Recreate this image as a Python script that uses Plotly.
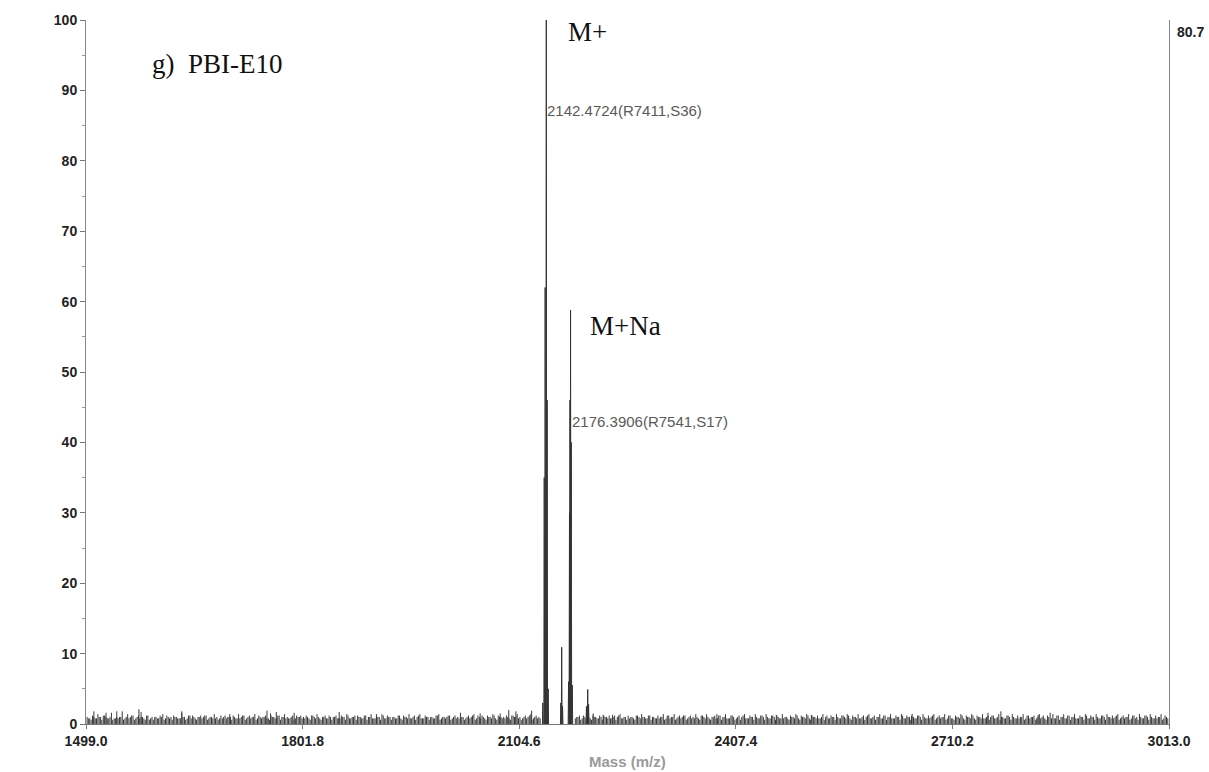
import numpy as np
import plotly.graph_objects as go

# ---------------- data ----------------
x_ticks = [1499.0, 1801.8, 2104.6, 2407.4, 2710.2, 3013.0]
y_ticks = [0, 10, 20, 30, 40, 50, 60, 70, 80, 90, 100]

# main isotope-cluster peaks (m/z, relative intensity %)
peak_mz = [2137.6, 2139.6, 2140.9, 2142.4724, 2143.7, 2145.1,
           2162.8, 2164.0, 2165.2,
           2173.6, 2174.9, 2175.6, 2176.3906, 2177.4, 2178.8,
           2198.6, 2200.4, 2201.6]
peak_int = [3.0, 35.0, 62.0, 100.0, 46.0, 5.0,
            3.0, 10.9, 2.5,
            6.0, 30.0, 46.0, 58.8, 40.0, 5.5,
            2.5, 4.9, 2.8]

# baseline noise, hand-read digit heights (x0.2 %) on two interleaved m/z grids
noise_digits_a = (
    "5464756548455947564654635546745565495466"
    "4565645754465564756465745564654657546456"
    "5646574564556465745665465746574655464657"
    "4657465546745564658546574564657465564657"
    "5465746554653443346545645746545656465745"
    "6546575465465746574656465746574564657465"
    "4657465746574656475465746574656475465746"
    "5746574657465746574657465746574657465746"
    "4657465746574656475465746574656475468746"
    "5746574657465746575657465746574657465745"
)
noise_digits_b = (
    "4354536453445354635453643545364354453645"
    "3546354436545354463545364543546354453654"
    "4536453546354453645354635445364535463544"
    "5364453546354635445354636453546354453654"
    "3546354453645346353445364535463544536453"
    "4536454635445364535463544536453546354463"
    "5364453546354635445354635463544536453546"
    "4635445364535463544536453546354463545364"
    "3546354635445364535463544536453546354463"
    "5463544536453546354463545364354635445364"
)
# notable noise spikes
spike_mz = [1510, 1527, 1542, 1573, 1576, 1633, 1700, 1752, 1757, 1765, 1790, 1853,
            1905, 2050, 2078, 2090, 2100, 2122, 2208, 2222, 2235, 2381, 2464,
            2513, 2653, 2760, 2778, 2830]
spike_int = [1.8, 1.6, 1.8, 2.1, 1.7, 1.6, 1.4, 1.9, 1.5, 1.7, 1.6, 1.7,
             1.4, 1.5, 1.5, 2.0, 1.8, 1.9, 1.5, 1.3, 1.3, 1.4, 1.3,
             1.3, 1.2, 1.6, 1.8, 1.3]

# ---------------- build traces ----------------
sx, sy = [], []
for digits, start in ((noise_digits_a, 1500.5), (noise_digits_b, 1502.3)):
    vals = [int(c) * 0.2 for c in digits]
    grid = np.linspace(start, start + 1509.0, len(vals))
    for m, h in zip(grid, vals):
        if 2134 < m < 2182 or m > 3012:
            continue
        sx += [m, m, None]
        sy += [0, h, None]
for m, h in zip(spike_mz, spike_int):
    sx += [m, m, None]
    sy += [0, h, None]

px, py = [], []
for m, h in zip(peak_mz, peak_int):
    px += [m - 0.55, m, m + 0.55, None]
    py += [0, h, 0, None]

fig = go.Figure()
fig.add_trace(go.Scatter(x=sx, y=sy, mode="lines",
                         line=dict(color="#3a3a3a", width=1),
                         hoverinfo="skip", showlegend=False))
fig.add_trace(go.Scatter(x=px, y=py, mode="lines",
                         line=dict(color="#333333", width=1),
                         hoverinfo="skip", showlegend=False))

sans = "Liberation Sans, Arial, sans-serif"
serif_f = "Liberation Serif, Times New Roman, serif"
tick_font = dict(family=sans, size=14, color="#222222")

fig.update_layout(
    width=1209, height=772,
    margin=dict(l=86, r=40, t=20, b=48),
    paper_bgcolor="white", plot_bgcolor="white",
    xaxis=dict(range=[1499.0, 3013.0], tickvals=x_ticks,
               ticktext=[f"<b>{v:.1f}</b>" for v in x_ticks],
               showgrid=False, zeroline=False, showline=True,
               linecolor="#777777", linewidth=1,
               ticks="outside", ticklen=4, tickcolor="#777777",
               tickfont=tick_font, automargin=False),
    yaxis=dict(range=[0, 100], tickvals=y_ticks,
               ticktext=[f"<b>{v}</b>" for v in y_ticks],
               showgrid=False, zeroline=False, showline=True, mirror=True,
               linecolor="#888888", linewidth=1,
               ticks="outside", ticklen=5, tickcolor="#777777",
               tickfont=tick_font, automargin=False,
               minor=dict(dtick=5, ticks="outside", ticklen=3, tickcolor="#999999")),
)

# x-axis title
fig.add_annotation(xref="paper", yref="paper", x=0.5, y=0, yshift=-37,
                   text="<b>Mass (m/z)</b>", showarrow=False,
                   xanchor="center", yanchor="middle",
                   font=dict(family=sans, size=15, color="#9a9a9a"))

ann_font = dict(family=sans, size=15, color="#5a5a5a")
serif = dict(family=serif_f, size=27, color="#111111")

fig.add_annotation(x=2142.4724, y=87.2, text="2142.4724(R7411,S36)", showarrow=False,
                   xanchor="left", yanchor="middle", font=ann_font, xshift=-1)
fig.add_annotation(x=2176.3906, y=43.0, text="2176.3906(R7541,S17)", showarrow=False,
                   xanchor="left", yanchor="middle", font=ann_font, xshift=-1)
fig.add_annotation(x=2170.0, y=98.3, text="M+", showarrow=False,
                   xanchor="left", yanchor="middle", font=serif)
fig.add_annotation(x=2200.8, y=56.5, text="M+Na", showarrow=False,
                   xanchor="left", yanchor="middle", font=serif)
fig.add_annotation(x=1588.0, y=93.8, text="g)  PBI-E10", showarrow=False,
                   xanchor="left", yanchor="middle",
                   font=dict(family=serif_f, size=27, color="#111111"))
fig.add_annotation(xref="paper", yref="paper", x=1.0, y=1.0, text="<b>80.7</b>",
                   showarrow=False, xanchor="left", yanchor="top", xshift=6, yshift=-2,
                   font=dict(family=sans, size=14, color="#222222"))

fig.write_html("out.html")
